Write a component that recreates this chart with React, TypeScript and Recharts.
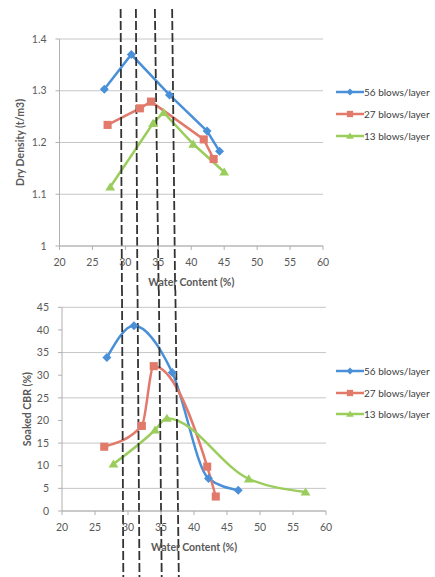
import React from 'react'
import { LineChart, Line, XAxis, YAxis, CartesianGrid, ReferenceLine, Legend } from 'recharts'

// axes
const waterTicks = [20, 25, 30, 35, 40, 45, 50, 55, 60]
const densityTicks = [1, 1.1, 1.2, 1.3, 1.4]
const cbrTicks = [0, 5, 10, 15, 20, 25, 30, 35, 40, 45]

// series
const seriesNames = ['56 blows/layer', '27 blows/layer', '13 blows/layer']
const seriesColors = ['#4A90D9', '#E27A6C', '#9BCD5C']
const seriesMarkers = ['diamond', 'square', 'triangle']

// dry density (t/m3) vs water content (%)
const ddWater56 = [26.8, 30.9, 36.7, 42.4, 44.3]
const dd56 = [1.303, 1.37, 1.292, 1.222, 1.183]
const ddWater27 = [27.3, 32.2, 33.9, 41.9, 43.4]
const dd27 = [1.234, 1.266, 1.279, 1.206, 1.168]
const ddWater13 = [27.7, 34.2, 35.8, 40.3, 45.0]
const dd13 = [1.114, 1.237, 1.258, 1.197, 1.143]

// soaked CBR (%) vs water content (%)
const cbrWater56 = [26.8, 30.9, 36.7, 42.2, 46.7]
const cbr56 = [33.9, 40.9, 30.6, 7.2, 4.6]
const cbrWater27 = [26.4, 32.1, 33.9, 42.0, 43.3]
const cbr27 = [14.2, 18.8, 32.0, 9.8, 3.2]
const cbrWater13 = [27.8, 34.1, 35.9, 48.3, 56.9]
const cbr13 = [10.4, 17.9, 20.5, 7.1, 4.2]

// hand drawn dashed guides (water content at top / bottom of each panel)
const guideTopFrom = [29.28, 31.6, 34.48, 37.1]
const guideTopTo = [29.48, 31.83, 35.06, 37.56]
const guideTopY = [1.458, 0.905]
const guideBotFrom = [29.09, 31.44, 34.67, 37.17]
const guideBotTo = [29.29, 31.74, 35.11, 37.7]
const guideBotY = [49.5, -15]

const FONT = "Lato, 'Open Sans', sans-serif"
const TXT = '#595959'
const GRID = '#c6c6c6'

const zip = (xs: number[], ys: number[]) => xs.map((x, i) => ({ x, y: ys[i] }))

const densitySeries = [zip(ddWater56, dd56), zip(ddWater27, dd27), zip(ddWater13, dd13)]
const cbrSeries = [zip(cbrWater56, cbr56), zip(cbrWater27, cbr27), zip(cbrWater13, cbr13)]

function Marker({ cx, cy, shape, color, s }: any) {
  if (cx == null || cy == null) return null
  if (shape === 'diamond')
    return <path d={`M${cx},${cy - s}L${cx + s},${cy}L${cx},${cy + s}L${cx - s},${cy}Z`} fill={color} />
  if (shape === 'square')
    return <rect x={cx - s * 0.9} y={cy - s * 0.9} width={s * 1.8} height={s * 1.8} fill={color} />
  return <path d={`M${cx},${cy - s}L${cx + s * 1.1},${cy + s * 0.8}L${cx - s * 1.1},${cy + s * 0.8}Z`} fill={color} />
}

function LegendBox({ payload, row }: any) {
  const items = [...(payload || [])].sort(
    (a: any, b: any) => seriesNames.indexOf(a.value) - seriesNames.indexOf(b.value),
  )
  return (
    <div style={{ fontFamily: FONT, fontSize: 10, color: '#404040' }}>
      {items.map((e: any) => {
        const i = seriesNames.indexOf(e.value)
        return (
          <div key={e.value} style={{ display: 'flex', alignItems: 'center', height: row }}>
            <svg width={28} height={12} style={{ display: 'block' }}>
              <line x1={0} y1={6} x2={28} y2={6} stroke={seriesColors[i]} strokeWidth={2.5} />
              <Marker cx={14} cy={6} shape={seriesMarkers[i]} color={seriesColors[i]} s={3.5} />
            </svg>
            <span style={{ whiteSpace: 'nowrap' }}>{e.value}</span>
          </div>
        )
      })}
    </div>
  )
}

function YTitle({ viewBox, value, dx }: any) {
  const x = viewBox.x + dx
  const y = viewBox.y + viewBox.height / 2
  return (
    <text
      x={x}
      y={y}
      transform={`rotate(-90, ${x}, ${y})`}
      textAnchor="middle"
      dominantBaseline="central"
      fontFamily={FONT}
      fontSize={10.5}
      fontWeight={700}
      fill={TXT}
    >
      {value}
    </text>
  )
}

const tickStyle = { fontSize: 10.5, fill: TXT, fontFamily: FONT }

function Panel({
  series, yDomain, yTicks, yTitle, curve, margin, yWidth, guidesFrom, guidesTo, guideY, legendTop, row, height, titleDx, labelOffset,
}: any) {
  return (
    <LineChart width={435} height={height} margin={margin}>
      <CartesianGrid vertical={false} stroke={GRID} />
      <XAxis
        type="number"
        dataKey="x"
        domain={[20, 60]}
        ticks={waterTicks}
        height={44}
        tick={tickStyle}
        tickSize={4}
        tickMargin={9}
        stroke="#b0b0b0"
        allowDataOverflow
        label={{
          value: 'Water Content (%)',
          position: 'insideBottom',
          offset: labelOffset,
          style: { fontSize: 10.5, fontWeight: 700, fill: TXT, fontFamily: FONT },
        }}
      />
      <YAxis
        type="number"
        domain={yDomain}
        ticks={yTicks}
        width={yWidth}
        tick={tickStyle}
        tickSize={4}
        tickMargin={9}
        stroke="#b0b0b0"
        allowDataOverflow
        label={<YTitle value={yTitle} dx={titleDx} />}
      />
      <Legend
        layout="horizontal"
        align="center"
        verticalAlign="middle"
        content={<LegendBox row={row} />}
        wrapperStyle={{ left: 336, top: legendTop, width: 100, height: row * 3 }}
      />
      {series.map((d: any[], i: number) => (
        <Line
          key={seriesNames[i]}
          data={d}
          dataKey="y"
          name={seriesNames[i]}
          type={curve}
          stroke={seriesColors[i]}
          strokeWidth={2.5}
          isAnimationActive={false}
          dot={(p: any) => (
            <Marker key={`${i}-${p.index}`} cx={p.cx} cy={p.cy} shape={seriesMarkers[i]} color={seriesColors[i]} s={4.5} />
          )}
          activeDot={false}
        />
      ))}
      {guidesFrom.map((x0: number, i: number) => (
        <ReferenceLine
          key={`g${i}`}
          segment={[
            { x: x0, y: guideY[0] },
            { x: guidesTo[i], y: guideY[1] },
          ]}
          stroke="#333"
          strokeWidth={1.8}
          strokeDasharray="9 3"
          ifOverflow="visible"
        />
      ))}
    </LineChart>
  )
}

export default function App() {
  return (
    <div style={{ position: 'absolute', left: 0, top: 0, width: 435, height: 577, background: '#fff', fontFamily: FONT }}>
      <div style={{ position: 'absolute', left: 0, top: 0 }}>
        <Panel
          series={densitySeries}
          yDomain={[1, 1.4]}
          yTicks={densityTicks}
          yTitle="Dry Density (t/m3)"
          curve="linear"
          height={290}
          margin={{ top: 39, right: 112, bottom: 0, left: 0 }}
          yWidth={59.5}
          guidesFrom={guideTopFrom}
          guidesTo={guideTopTo}
          guideY={guideTopY}
          legendTop={80.7}
          row={22}
          titleDx={20}
          labelOffset={4}
        />
      </div>
      <div style={{ position: 'absolute', left: 0, top: 290 }}>
        <Panel
          series={cbrSeries}
          yDomain={[0, 45]}
          yTicks={cbrTicks}
          yTitle="Soaked CBR (%)"
          curve="monotone"
          height={287}
          margin={{ top: 17.3, right: 109, bottom: 22, left: 0 }}
          yWidth={62}
          guidesFrom={guideBotFrom}
          guidesTo={guideBotTo}
          guideY={guideBotY}
          legendTop={70.7}
          row={21.5}
          titleDx={27}
          labelOffset={4}
        />
      </div>
    </div>
  )
}
